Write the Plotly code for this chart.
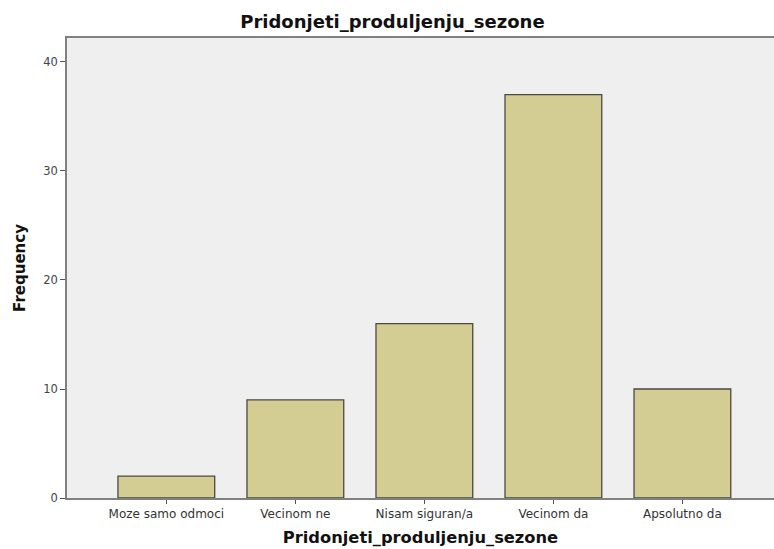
import plotly.graph_objects as go

categories = ["Moze samo odmoci", "Vecinom ne", "Nisam siguran/a", "Vecinom da", "Apsolutno da"]
frequency = [2, 9, 16, 37, 10]
y_ticks = [0, 10, 20, 30, 40]

fig = go.Figure()
fig.add_trace(go.Bar(
    x=categories,
    y=frequency,
    width=0.75,
    marker=dict(color="#d3cd94", line=dict(color="#4a4a40", width=1.3)),
))

fig.update_layout(
    width=774, height=549,
    margin=dict(l=67, r=0, t=38, b=51),
    paper_bgcolor="white",
    plot_bgcolor="#efefef",
    showlegend=False,
    font=dict(family="DejaVu Sans, Verdana, sans-serif", color="#333333"),
    title=dict(text="<b>Pridonjeti_produljenju_sezone</b>", x=0.507, xanchor="center",
               y=1 - 22 / 549, yanchor="middle", font=dict(size=18, color="#111111")),
)
fig.update_xaxes(
    type="category", range=[-0.77, 4.71],
    showline=True, linecolor="#808080", linewidth=1.5, mirror=True,
    ticks="outside", ticklen=4, tickcolor="#555555",
    tickfont=dict(size=12, color="#333333"),
    showgrid=False,
    title=dict(text="<b>Pridonjeti_produljenju_sezone</b>", font=dict(size=16.3, color="#111111"), standoff=11),
)
fig.update_yaxes(
    range=[0, 42.2], tickvals=y_ticks,
    showline=True, linecolor="#808080", linewidth=1.5, mirror=False,
    ticks="outside", ticklen=5, tickcolor="#555555",
    tickfont=dict(size=11.5, color="#444444"),
    showgrid=False, zeroline=False,
    title=dict(text="<b>Frequency</b>", font=dict(size=15, color="#111111"), standoff=14),
)

fig.write_html(
    "out.html",
    config={"displayModeBar": False},
    post_script="document.body.style.margin='0';document.body.style.overflow='hidden';",
)
